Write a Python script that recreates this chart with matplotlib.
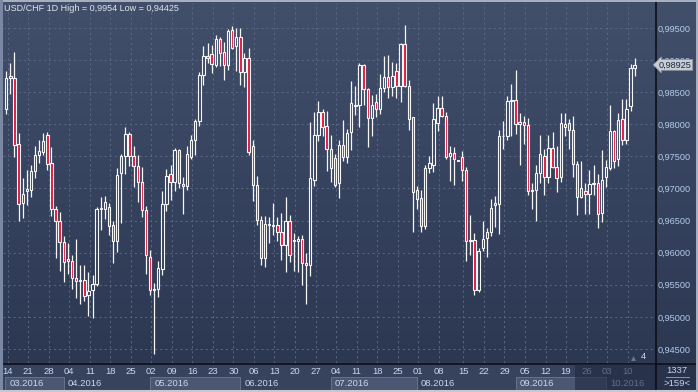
import matplotlib
matplotlib.use('Agg')
import matplotlib.pyplot as plt
import numpy as np
from matplotlib.patches import Rectangle
from matplotlib.colors import LinearSegmentedColormap
from matplotlib.transforms import blended_transform_factory

plt.rcParams['font.family'] = ['Liberation Sans', 'DejaVu Sans']

# daily USD/CHF candles, 14.03.2016 .. 12.10.2016
opens = [0.98239, 0.98748, 0.98722, 0.97694, 0.96771, 0.96968, 0.96978, 0.97269, 0.97518, 0.97570,
         0.97840, 0.97398, 0.96682, 0.96501, 0.96168, 0.95904, 0.95867, 0.95608, 0.95566, 0.95577,
         0.95348, 0.95421, 0.95515, 0.96682, 0.96687, 0.96713, 0.96438, 0.96179, 0.97243, 0.97513,
         0.97850, 0.97502, 0.97347, 0.97103, 0.96672, 0.95935, 0.95421, 0.95442, 0.95753, 0.96760,
         0.97227, 0.97103, 0.97606, 0.97071, 0.97035, 0.97487, 0.97751, 0.98047, 0.98774, 0.99064,
         0.99096, 0.98930, 0.99334, 0.99127, 0.98919, 0.99474, 0.99215, 0.99360, 0.98815, 0.99033,
         0.97658, 0.97051, 0.96506, 0.95919, 0.96438, 0.96423, 0.96433, 0.96324, 0.96127, 0.96495,
         0.96189, 0.96189, 0.96215, 0.95841, 0.95816, 0.97129, 0.97840, 0.98193, 0.97975, 0.97616,
         0.97476, 0.97082, 0.97684, 0.97487, 0.97881, 0.98286, 0.98296, 0.98919, 0.98556, 0.98099,
         0.98348, 0.98244, 0.98566, 0.98737, 0.98582, 0.98826, 0.98592, 0.99256, 0.98603, 0.98110,
         0.96973, 0.96854, 0.96412, 0.97321, 0.97362, 0.98021, 0.98255, 0.98135, 0.97502, 0.97554,
         0.97430, 0.97492, 0.97295, 0.96184, 0.96200, 0.95416, 0.96075, 0.96231, 0.96324, 0.96739,
         0.96765, 0.97814, 0.97814, 0.98369, 0.98374, 0.98006, 0.98032, 0.97985, 0.96968, 0.96973,
         0.97243, 0.97502, 0.97181, 0.97632, 0.97336, 0.97181, 0.97959, 0.98021, 0.97917, 0.97388,
         0.96864, 0.96957, 0.96916, 0.97071, 0.97087, 0.96620, 0.97175, 0.97321, 0.97892, 0.97461,
         0.98084, 0.97762, 0.98281, 0.98878]
highs = [0.98826, 0.98955, 0.99127, 0.97866, 0.97165, 0.97295, 0.97362, 0.97668, 0.97751, 0.97866,
         0.97881, 0.97642, 0.96724, 0.96636, 0.96257, 0.96148, 0.95961, 0.96220, 0.95805, 0.95816,
         0.95707, 0.95649, 0.96708, 0.96869, 0.96879, 0.96776, 0.96490, 0.97321, 0.97539, 0.97959,
         0.97881, 0.97658, 0.97518, 0.97336, 0.96724, 0.96049, 0.95530, 0.95867, 0.96957, 0.97305,
         0.97362, 0.97632, 0.97622, 0.97175, 0.97658, 0.97840, 0.98089, 0.98815, 0.99225, 0.99267,
         0.99231, 0.99386, 0.99355, 0.99282, 0.99490, 0.99530, 0.99500, 0.99500, 0.99111, 0.99189,
         0.97762, 0.97201, 0.96578, 0.96568, 0.96552, 0.96776, 0.96552, 0.96620, 0.96869, 0.96594,
         0.96309, 0.96257, 0.96283, 0.95997, 0.98037, 0.98193, 0.98369, 0.98244, 0.98203, 0.97829,
         0.97539, 0.97762, 0.98073, 0.97933, 0.98670, 0.98592, 0.98955, 0.98940, 0.98560, 0.98462,
         0.98478, 0.98784, 0.99059, 0.99085, 0.98971, 0.98955, 0.99267, 0.99540, 0.98696, 0.98115,
         0.97035, 0.96983, 0.97373, 0.97502, 0.98333, 0.98436, 0.98447, 0.98193, 0.97668, 0.97642,
         0.97440, 0.97590, 0.97336, 0.96594, 0.96309, 0.96075, 0.96501, 0.96386, 0.96843, 0.96879,
         0.97917, 0.98047, 0.98447, 0.98628, 0.98852, 0.98177, 0.98125, 0.98099, 0.97087, 0.97373,
         0.97840, 0.97622, 0.97829, 0.97881, 0.97668, 0.98177, 0.98177, 0.98089, 0.98135, 0.97424,
         0.97435, 0.97087, 0.97295, 0.97373, 0.97227, 0.97606, 0.97450, 0.98307, 0.97917, 0.98177,
         0.98395, 0.98395, 0.98940, 0.99033]
lows = [0.98167, 0.98478, 0.97487, 0.96490, 0.96542, 0.96739, 0.96864, 0.97165, 0.97393, 0.97518,
        0.97295, 0.96568, 0.95919, 0.95712, 0.95546, 0.95675, 0.95442, 0.95297, 0.95203, 0.95245,
        0.95011, 0.94985, 0.95478, 0.96360, 0.96532, 0.96272, 0.95841, 0.96013, 0.96464, 0.97227,
        0.97347, 0.97020, 0.96791, 0.96558, 0.95670, 0.95338, 0.94425, 0.95307, 0.95660, 0.96646,
        0.96817, 0.96957, 0.97009, 0.96610, 0.96983, 0.97466, 0.97518, 0.97969, 0.98608, 0.98955,
        0.98800, 0.98888, 0.98904, 0.98696, 0.98852, 0.99173, 0.98836, 0.98608, 0.98577, 0.97518,
        0.96802, 0.96428, 0.95805, 0.95774, 0.96153, 0.96272, 0.96189, 0.95893, 0.95696, 0.95857,
        0.95722, 0.95701, 0.95494, 0.95203, 0.95634, 0.97035, 0.97746, 0.97814, 0.97269, 0.97097,
        0.97020, 0.96854, 0.97424, 0.97398, 0.97596, 0.98151, 0.97954, 0.98307, 0.97648, 0.97814,
        0.98110, 0.98161, 0.98499, 0.98411, 0.98436, 0.98411, 0.98343, 0.98577, 0.97917, 0.96319,
        0.96682, 0.96319, 0.96376, 0.97243, 0.97258, 0.97892, 0.98115, 0.97466, 0.97113, 0.97061,
        0.97430, 0.97113, 0.95867, 0.95961, 0.95348, 0.95385, 0.96023, 0.95930, 0.96257, 0.96397,
        0.96298, 0.97622, 0.97751, 0.97814, 0.97850, 0.97373, 0.97700, 0.96905, 0.96687, 0.96490,
        0.97087, 0.96895, 0.97087, 0.97321, 0.96942, 0.97097, 0.97814, 0.97616, 0.97181, 0.96594,
        0.96854, 0.96610, 0.96610, 0.96905, 0.96386, 0.96480, 0.97025, 0.97284, 0.97321, 0.97347,
        0.97684, 0.97700, 0.98203, 0.98748]
closes = [0.98722, 0.98722, 0.97674, 0.96760, 0.96916, 0.96988, 0.97279, 0.97528, 0.97580, 0.97746,
          0.97383, 0.96682, 0.96501, 0.96168, 0.95857, 0.95867, 0.95608, 0.95566, 0.95577, 0.95333,
          0.95411, 0.95515, 0.96682, 0.96693, 0.96791, 0.96423, 0.96179, 0.97217, 0.97513, 0.97850,
          0.97502, 0.97347, 0.97103, 0.96672, 0.95971, 0.95421, 0.95442, 0.95764, 0.96760, 0.97191,
          0.97103, 0.97606, 0.97087, 0.97040, 0.97539, 0.97751, 0.98058, 0.98774, 0.99059, 0.99033,
          0.98940, 0.99334, 0.99111, 0.98919, 0.99459, 0.99189, 0.99360, 0.98815, 0.99033, 0.97570,
          0.97051, 0.96506, 0.95919, 0.96454, 0.96449, 0.96433, 0.96324, 0.96127, 0.96495, 0.95971,
          0.96200, 0.96215, 0.95841, 0.95816, 0.97165, 0.97840, 0.98193, 0.97959, 0.97616, 0.97321,
          0.97061, 0.97684, 0.97487, 0.97866, 0.98333, 0.98296, 0.98919, 0.98556, 0.98099, 0.98296,
          0.98244, 0.98566, 0.98737, 0.98582, 0.98748, 0.98592, 0.99256, 0.98592, 0.98084, 0.96947,
          0.96843, 0.96412, 0.97321, 0.97398, 0.98084, 0.98255, 0.98125, 0.97492, 0.97554, 0.97466,
          0.97440, 0.97284, 0.96179, 0.96200, 0.95416, 0.96033, 0.96220, 0.96324, 0.96698, 0.96776,
          0.97814, 0.97824, 0.98359, 0.98379, 0.98006, 0.98037, 0.97995, 0.96957, 0.96978, 0.97243,
          0.97539, 0.97181, 0.97632, 0.97336, 0.97165, 0.98021, 0.98006, 0.97917, 0.97388, 0.96869,
          0.97009, 0.96916, 0.97071, 0.97087, 0.96604, 0.97139, 0.97336, 0.97892, 0.97435, 0.98073,
          0.97762, 0.98239, 0.98878, 0.98925]

# weekly ticks (candle index of each Monday) and their day labels
week_idx = [0, 5, 10, 15, 20, 25, 30, 35, 40, 45, 50, 55, 60, 65, 70, 75, 80, 85, 90, 95,
            100, 105, 111, 116, 121, 126, 131, 136, 141, 146, 151]
week_lbl = ['14', '21', '28', '04', '11', '18', '25', '02', '09', '16', '23', '30', '06', '13',
            '20', '27', '04', '11', '18', '25', '01', '08', '15', '22', '29', '05', '12', '19',
            '26', '03', '10']
month_idx = [-0.3, 14, 35, 57, 79, 100, 124, 146]
month_lbl = ['03.2016', '04.2016', '05.2016', '06.2016', '07.2016', '08.2016', '09.2016', '10.2016']
yticks = [0.945, 0.950, 0.955, 0.960, 0.965, 0.970, 0.975, 0.980, 0.985, 0.990, 0.995]

W, H = 698, 392
def box(l, t, r, b):
    return [l / W, 1 - b / H, (r - l) / W, (b - t) / H]

fig = plt.figure(figsize=(W / 100, H / 100), dpi=100)

# background, borders, bottom panel
bg = fig.add_axes([0, 0, 1, 1])
bg.set_xlim(0, W)
bg.set_ylim(H, 0)
bg.axis('off')
cmap = LinearSegmentedColormap.from_list('bg', ['#424f6b', '#2c3852'])
bg.imshow(np.linspace(0, 1, 200)[:, None], extent=[0, W, 363, 0], cmap=cmap, aspect='auto')
bg.add_patch(Rectangle((0, 363), W, 29, color='#37435d'))
bg.add_patch(Rectangle((655, 364), W - 655, 26, color='#28324b'))
bg.plot([0, W], [363.5, 363.5], color='#0c0f18', lw=1.2)
bg.plot([655.5, 655.5], [0, 390], color='#0c0f18', lw=1.2)
bg.plot([0, W], [0.7, 0.7], color='#aab2c2', lw=1.4)
bg.plot([0.9, 0.9], [0, 392], color='#7a88a4', lw=2.2)
bg.plot([0, W], [391, 391], color='#c4c8d0', lw=2.2)
bg.plot([W - 0.7, W - 0.7], [0, 392], color='#aab2c2', lw=1.4)
bg.text(677, 370.5, '1337', ha='center', va='center', fontsize=6.8, color='#c8d4ea')
bg.plot([666, 689], [377, 377], color='#8a96ae', lw=0.7)
bg.text(677, 384, '>159<', ha='center', va='center', fontsize=6.8, color='#c8d4ea')
bg.text(643, 356.5, '4', ha='center', va='center', fontsize=6.8, color='#d0d8e6')
bg.plot([633], [357.5], marker='^', ms=3.5, color='#6c7690', mec='none')

fig.text(4 / W, 1 - 8.5 / H, 'USD/CHF 1D High = 0,9954 Low = 0,94425', ha='left', va='center',
         fontsize=6.5, color='#dfe4ee')

# price area
ax = fig.add_axes(box(3, 3, 655, 363))
ax.patch.set_alpha(0)
for s in ax.spines.values():
    s.set_visible(False)
ax.set_xlim(-0.8, 157.95)
ax.set_ylim(0.94282, 0.99889)
ax.set_xticks([i + 0.3 for i in week_idx])
ax.set_xticklabels([])
ax.set_yticks(yticks)
ax.set_yticklabels([('%.5f' % v).replace('.', ',') for v in yticks])
ax.yaxis.tick_right()
ax.tick_params(axis='both', length=0)
ax.tick_params(axis='y', pad=2.2, labelsize=6.6, labelcolor='#b4cbea')
ax.grid(True, color='#5b6782', lw=0.7, linestyle=(0, (2.2, 3)))
ax.set_axisbelow(True)

o = np.array(opens)
h = np.array(highs)
l = np.array(lows)
c = np.array(closes)
x = np.arange(len(o))
top = np.maximum(o, c)
bot = np.minimum(o, c)
wick = '#f6f6f6'
ax.vlines(x, top, h, color=wick, lw=0.9, zorder=3)
ax.vlines(x, l, bot, color=wick, lw=0.9, zorder=3)
down = c < o
ax.bar(x[down], (top - bot)[down], bottom=bot[down], width=0.58, color='#e5163d',
       edgecolor=wick, linewidth=0.8, zorder=4)
ax.bar(x[~down], np.maximum(top - bot, 0.00002)[~down], bottom=bot[~down], width=0.58,
       color='none', edgecolor=wick, linewidth=0.8, zorder=4)

# last price tag, covering part of the 0,99000 label as in the terminal
tr = blended_transform_factory(ax.transAxes, ax.transData)
ax.text(1.006, closes[-1], ('%.5f' % closes[-1]).replace('.', ','), transform=tr, ha='left',
        va='center', fontsize=6.6, color='#1e2636', clip_on=False, zorder=10,
        bbox=dict(boxstyle='larrow,pad=0.1', fc='#c8ccd4', ec='#8a92a2', lw=0.5))

# date strip
axb = fig.add_axes(box(3, 364, 655, 390))
axb.set_xlim(ax.get_xlim())
axb.set_ylim(26, 0)
axb.axis('off')
for i, (m0, lbl) in enumerate(zip(month_idx, month_lbl)):
    m1 = month_idx[i + 1] if i + 1 < len(month_idx) else 158
    if i % 2 == 0:
        axb.add_patch(Rectangle((m0, 13), m1 - m0, 12.5, fc='#4b5772', ec='#66728c', lw=0.7))
    else:
        axb.plot([m0, m0], [13, 25.5], color='#66728c', lw=0.7)
    axb.text(m0 + 1.0, 19.5, lbl, ha='left', va='center', fontsize=6.8, color='#c8d6ee')
for i, lbl in zip(week_idx, week_lbl):
    axb.text(i + 0.3, 8, lbl, ha='center', va='center', fontsize=6.8, color='#c8d6ee')
axb.add_patch(Rectangle((0.877, 0), 0.123, 1, transform=axb.transAxes, fc='#1f2740',
                        alpha=0.6, ec='none', zorder=5))

fig.savefig('out.png', dpi=100)
